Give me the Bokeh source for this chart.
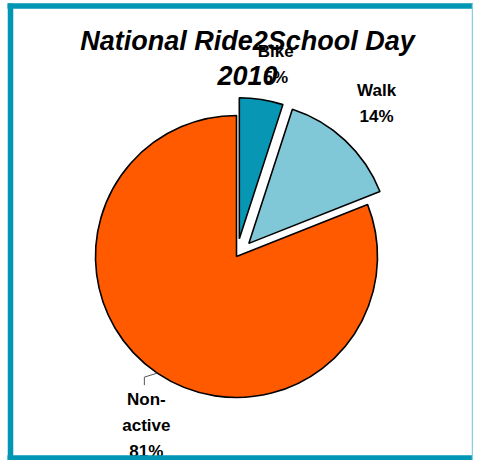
import math
from bokeh.plotting import figure
from bokeh.models import Range1d
from bokeh.embed import file_html
from bokeh.resources import INLINE
from bokeh.core.properties import value

# ---- data ----
categories = ["Bike", "Walk", "Non-active"]
shares = [5, 14, 81]
label_lines = [["Bike", "5%"], ["Walk", "14%"], ["Non-", "active", "81%"]]
title_lines = ["National Ride2School Day", "2010"]

# ---- styles ----
colors = ["#0797B4", "#80C7D7", "#FF5A00"]
explode = [18, 18, 0]
label_radius = [195, 207, 192]
label_nudge_deg = [-2.6, 0.6, 6.2]
FONT = "Liberation Sans"
TXT_FIX = -7  # baseline correction (px, screen)

W, H = 473, 460
p = figure(width=W, height=H, output_backend="svg", toolbar_location=None,
           x_range=Range1d(0, W), y_range=Range1d(-H, 0),
           min_border=0, background_fill_color="white",
           border_fill_color="white")
p.axis.visible = False
p.grid.visible = False
p.outline_line_color = None

cx, cy, R = 236.0, 256.0, 141.0  # screen coords of pie centre

cum = 0.0
for i, s in enumerate(shares):
    end_a = 90.0 - cum * 3.6
    start_a = 90.0 - (cum + s) * 3.6
    cum += s
    mid = math.radians((start_a + end_a) / 2)
    ox = cx + explode[i] * math.cos(mid)
    oy = cy - explode[i] * math.sin(mid)
    p.wedge(x=[ox], y=[-oy], radius=R,
            start_angle=[math.radians(start_a)], end_angle=[math.radians(end_a)],
            fill_color=colors[i], line_color="black", line_width=1.6)

    # label
    la = mid + math.radians(label_nudge_deg[i])
    lx = cx + label_radius[i] * math.cos(la)
    ly = cy - label_radius[i] * math.sin(la)
    n = len(label_lines[i])
    for j, t in enumerate(label_lines[i]):
        by = ly + (j - (n - 1) / 2) * 26 + 6 + TXT_FIX
        p.text(x=[lx], y=[-by], text=[t], text_font=value(FONT),
               text_font_size="17px", text_font_style="bold",
               text_color="black", text_align="center",
               text_baseline="alphabetic")
    if explode[i] == 0:
        sx = cx + R * math.cos(mid)
        sy = cy - R * math.sin(mid)
        ex = lx - 2
        p.line([sx, ex, ex], [-sy, -(sy + 4), -(sy + 12)],
               line_color="#555555", line_width=1)

# title
for j, t in enumerate(title_lines):
    p.text(x=[247], y=[-(47 + 35 * j + TXT_FIX)], text=[t], text_font=value(FONT),
           text_font_size="27px", text_font_style="bold italic",
           text_color="black", text_align="center", text_baseline="alphabetic")

# frame border
p.line([10, 10], [-3, -460], line_color="#0096B4", line_width=5.5)
p.line([7, 473], [-5.5, -5.5], line_color="#0096B4", line_width=5.5)
p.line([7, 473], [-457.5, -457.5], line_color="#0096B4", line_width=5.5)
p.line([472, 472], [-3, -460], line_color="#86D0E0", line_width=1.5)

open("out.html", "w").write(file_html(p, INLINE))
